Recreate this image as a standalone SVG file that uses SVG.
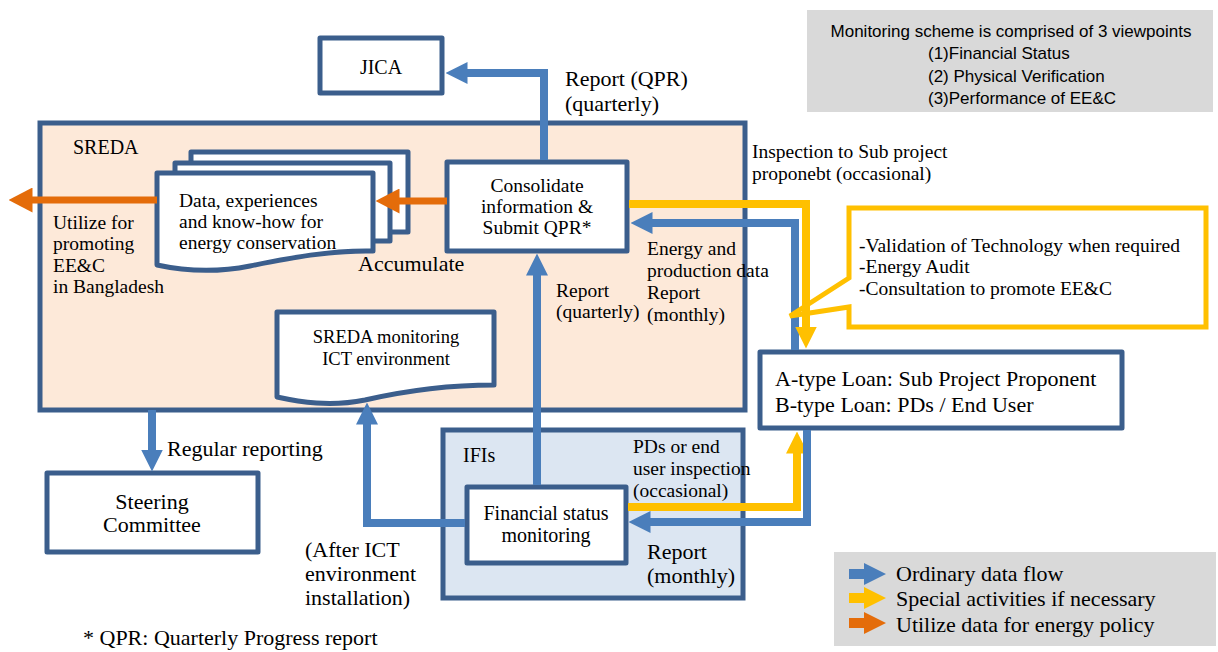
<svg xmlns="http://www.w3.org/2000/svg" width="1218" height="652" viewBox="0 0 1218 652">
<style>
text{font-family:"Liberation Serif","Times New Roman",serif;fill:#000;}
.box{fill:#fff;stroke:#3B5E8C;stroke-width:5;stroke-linejoin:round;}
.t19{font-size:19.5px;}
.t20{font-size:20px;}
.t22{font-size:22px;}
.mid{text-anchor:middle;}
.sans{font-family:"Liberation Sans",Arial,sans-serif;font-size:17px;}
.blue{fill:none;stroke:#4A7EBB;stroke-width:8;}
.yel{fill:none;stroke:#FFC000;stroke-width:8;}
.org{fill:none;stroke:#E46C0A;stroke-width:7;}
</style>
<defs>
<marker id="hb" markerUnits="userSpaceOnUse" markerWidth="22" markerHeight="22" viewBox="0 0 22 22" refX="0.5" refY="11" orient="auto"><path d="M0,0 L22,11 L0,22 Z" fill="#4A7EBB"/></marker>
<marker id="hy" markerUnits="userSpaceOnUse" markerWidth="22" markerHeight="22" viewBox="0 0 22 22" refX="0.5" refY="11" orient="auto"><path d="M0,0 L22,11 L0,22 Z" fill="#FFC000"/></marker>
<marker id="ho" markerUnits="userSpaceOnUse" markerWidth="24" markerHeight="25" viewBox="0 0 24 25" refX="0.5" refY="12.5" orient="auto"><path d="M0,0 L24,12.5 L0,25 Z" fill="#E46C0A"/></marker>
</defs>

<g id="info-box">
<rect x="807" y="10" width="406" height="102" fill="#D9D9D9"/>
<text class="sans" x="1011" y="37" text-anchor="middle">Monitoring scheme is comprised of 3 viewpoints</text>
<text class="sans" x="928" y="59">(1)Financial Status</text>
<text class="sans" x="928" y="82">(2) Physical Verification</text>
<text class="sans" x="928" y="104">(3)Performance of EE&amp;C</text>
</g>

<g id="sreda">
<rect x="40" y="123" width="705" height="287" fill="#FDE9D9" stroke="#3B5E8C" stroke-width="5"/>
<text class="t20" x="73" y="154">SREDA</text>
</g>

<g id="ifis">
<rect x="443" y="430" width="300" height="168" fill="#DCE6F2" stroke="#3B5E8C" stroke-width="5"/>
<text class="t20" x="463" y="462">IFIs</text>
</g>

<g id="jica">
<rect class="box" x="320" y="38" width="122" height="55"/>
<text class="t20 mid" x="381" y="74">JICA</text>
</g>

<g id="data-docs">
<rect class="box" x="191" y="152" width="217" height="80"/>
<rect class="box" x="175" y="163" width="215" height="78"/>
<path class="box" d="M157,173 H373 V251 C330,250 290,258 250,266 C210,274 180,270 157,265 Z"/>
<text class="t19" x="179" y="207">Data, experiences</text>
<text class="t19" x="179" y="228">and know-how for</text>
<text class="t19" x="179" y="249">energy conservation</text>
</g>

<g id="consolidate">
<rect class="box" x="447" y="162" width="180" height="89"/>
<text class="t19 mid" x="537" y="192">Consolidate</text>
<text class="t19 mid" x="537" y="213">information &amp;</text>
<text class="t19 mid" x="537" y="234">Submit QPR*</text>
</g>

<g id="ict-doc">
<path class="box" d="M277,312 H494 V385 C440,385 400,392 365,400 C330,407 300,402 277,397 Z"/>
<text class="mid" style="font-size:18.5px" x="386" y="343">SREDA monitoring</text>
<text class="mid" style="font-size:18.5px" x="386" y="365">ICT environment</text>
</g>

<g id="financial">
<rect class="box" x="467" y="487" width="159" height="76"/>
<text class="t20 mid" x="546" y="520">Financial status</text>
<text class="t20 mid" x="546" y="542">monitoring</text>
</g>

<g id="steering">
<rect class="box" x="47" y="473" width="211" height="79"/>
<text class="t22 mid" x="152" y="509">Steering</text>
<text class="t22 mid" x="152" y="532">Committee</text>
</g>

<g id="loan">
<rect class="box" x="760" y="352" width="362" height="76"/>
<text style="font-size:22px" x="775" y="386">A-type Loan: Sub Project Proponent</text>
<text style="font-size:22px" x="775" y="412">B-type Loan: PDs / End User</text>
</g>

<g id="connectors">
<path class="blue" d="M544,160 V73 H467" marker-end="url(#hb)"/>
<path class="blue" d="M537,485 V275" marker-end="url(#hb)"/>
<path class="blue" d="M795,350 V223 H652" marker-end="url(#hb)"/>
<path class="yel" d="M629,204 H806 V327" marker-end="url(#hy)"/>
<path class="yel" d="M628,507 H797 V453" marker-end="url(#hy)"/>
<path class="blue" d="M807,430 V522 H650" marker-end="url(#hb)"/>
<path class="blue" d="M465,523 H367 V424" marker-end="url(#hb)"/>
<path class="blue" d="M152,410 V450" marker-end="url(#hb)"/>
<path class="org" d="M447,201 H399" marker-end="url(#ho)"/>
<path class="org" d="M157,200 H32" marker-end="url(#ho)"/>
</g>

<g id="callout">
<path d="M849,208 H1206 V327 H849 V307 L790,316 L849,278 Z" fill="none" stroke="#FFC000" stroke-width="5" stroke-linejoin="miter"/>
<text class="t19" x="859" y="252">-Validation of Technology when required</text>
<text class="t19" x="859" y="273">-Energy Audit</text>
<text class="t19" x="859" y="295">-Consultation to promote EE&amp;C</text>
</g>

<g id="labels">
<text class="t22" x="565" y="86">Report (QPR)</text>
<text class="t22" x="565" y="111">(quarterly)</text>
<text class="t19" x="752" y="158">Inspection to Sub project</text>
<text class="t19" x="752" y="180">proponebt (occasional)</text>
<text class="t19" x="53" y="229">Utilize for</text>
<text class="t19" x="53" y="250">promoting</text>
<text class="t19" x="53" y="272">EE&amp;C</text>
<text class="t19" x="53" y="293">in Bangladesh</text>
<text class="t22" x="358" y="271">Accumulate</text>
<text class="t19" x="647" y="255">Energy and</text>
<text class="t19" x="647" y="277">production data</text>
<text class="t19" x="647" y="299">Report</text>
<text class="t19" x="647" y="321">(monthly)</text>
<text class="t19" x="556" y="297">Report</text>
<text class="t19" x="556" y="318">(quarterly)</text>
<text class="t22" x="167" y="456">Regular reporting</text>
<text class="t19" x="633" y="453">PDs or end</text>
<text class="t19" x="633" y="475">user inspection</text>
<text class="t19" x="633" y="497">(occasional)</text>
<text class="t22" x="647" y="559">Report</text>
<text class="t22" x="647" y="583">(monthly)</text>
<text class="t22" x="305" y="557">(After ICT</text>
<text class="t22" x="305" y="581">environment</text>
<text class="t22" x="305" y="605">installation)</text>
<text class="t22" x="83" y="645">* QPR: Quarterly Progress report</text>
</g>

<g id="legend">
<rect x="834" y="552" width="382" height="94" fill="#D9D9D9"/>
<path d="M849,569 H864 V563 L886,574 L864,585 V579 H849 Z" fill="#4A7EBB"/>
<path d="M849,593 H864 V587 L886,598 L864,609 V603 H849 Z" fill="#FFC000"/>
<path d="M849,618 H864 V612 L886,623 L864,634 V628 H849 Z" fill="#E46C0A"/>
<text class="t22" x="896" y="581">Ordinary data flow</text>
<text class="t22" x="896" y="606">Special activities if necessary</text>
<text class="t22" x="896" y="632">Utilize data for energy policy</text>
</g>
</svg>
